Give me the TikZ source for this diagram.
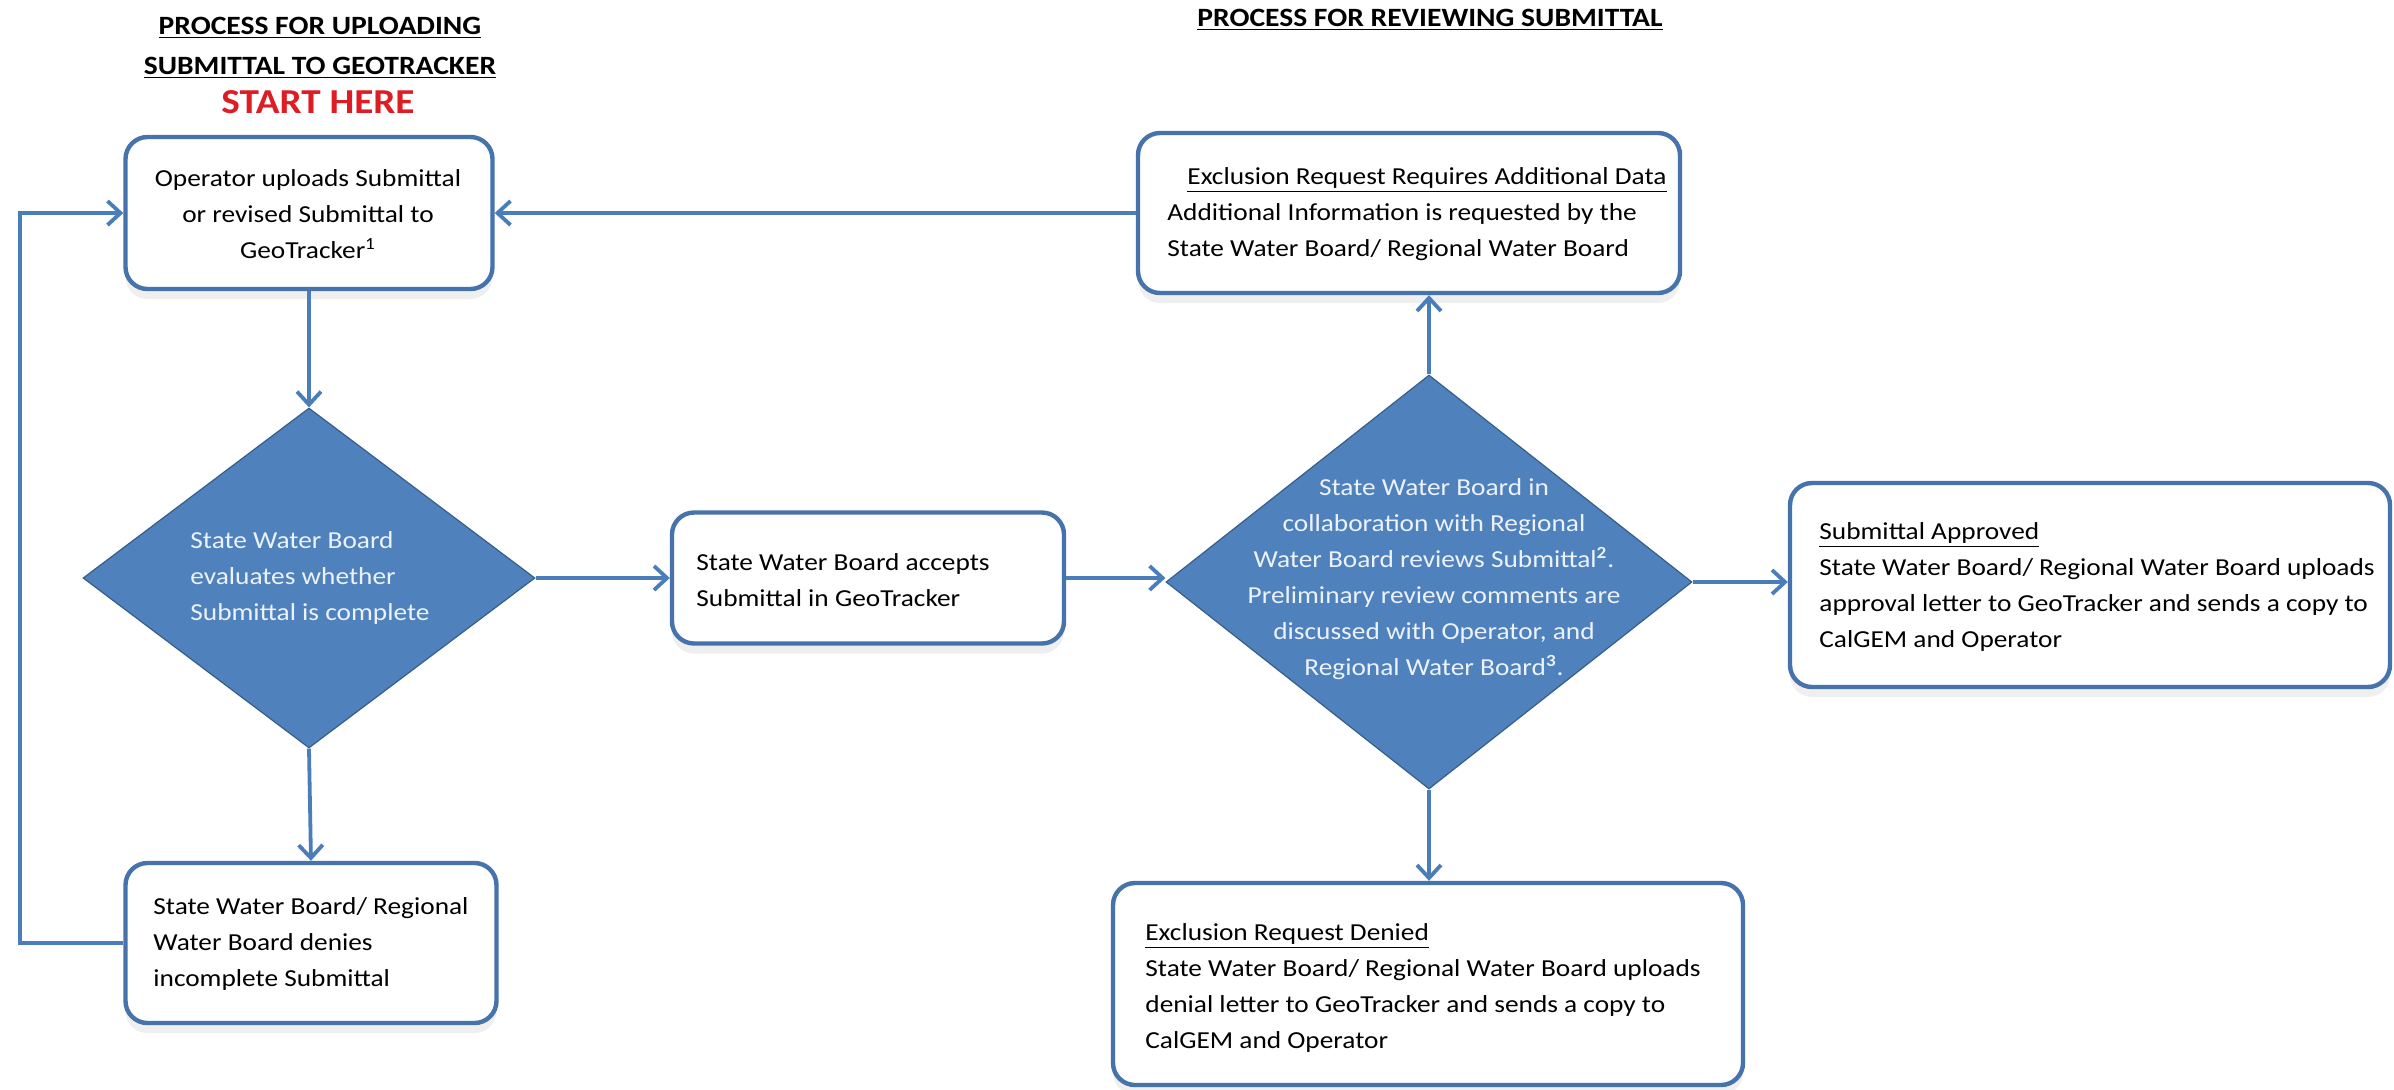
\documentclass[tikz,border=0pt]{standalone}
\usepackage{fontspec}
\setmainfont{Carlito}[FakeStretch=1.12]
\usetikzlibrary{shapes.geometric,arrows.meta,shadows}
\definecolor{lineblue}{RGB}{74,126,187}
\definecolor{dfill}{RGB}{79,129,189}
\definecolor{dborder}{RGB}{56,93,138}
\definecolor{dtext}{RGB}{236,242,250}
\definecolor{startred}{RGB}{222,28,36}
\definecolor{boxline}{RGB}{70,115,172}
\begin{document}
\begin{tikzpicture}[x=0.5pt,y=-0.5pt,
  box/.style={draw=boxline, line width=2.2pt, fill=white, rounded corners=11pt, inner sep=0pt,
    drop shadow={opacity=0.12, shadow xshift=0pt, shadow yshift=-5pt}},
  dia/.style={diamond, draw=dborder, line width=0.6pt, fill=dfill, inner sep=0pt},
  txt/.style={font=\fontsize{12.2}{18}\selectfont, inner sep=0pt, align=left, anchor=west},
  dtxt/.style={txt, text=dtext},
  arr/.style={draw=lineblue, line width=1.9pt, -{Straight Barb[length=6.5pt,width=12pt,line width=1.9pt]}},
  ttl/.style={font=\fontsize{13.2}{16}\selectfont\bfseries, inner sep=0pt}
]
\fill[white] (0,0) rectangle (2394,1089);
\useasboundingbox (0,0) rectangle (2394,1089);

% titles
\node[ttl] (tA) at (320,28) {\underline{PROCESS FOR UPLOADING}};
\node[ttl] (tB) at (320,68) {\underline{SUBMITTAL TO GEOTRACKER}};
\node[font=\fontsize{17.5}{20}\selectfont\bfseries, text=startred, inner sep=0pt] (tC) at (318,102) {START HERE};
\node[ttl] (tD) at (1430,20) {\underline{PROCESS FOR REVIEWING SUBMITTAL}};

% boxes
\node[box, minimum width=183.5pt, minimum height=76pt] (b1) at (309,213) {};
\node[box, minimum width=196pt, minimum height=65.5pt] (b2) at (868,578) {};
\node[box, minimum width=185.5pt, minimum height=80pt] (b3) at (311,943) {};
\node[box, minimum width=271pt, minimum height=80pt] (bTR) at (1409,213) {};
\node[box, minimum width=300pt, minimum height=102pt] (b5) at (2090,585) {};
\node[box, minimum width=315pt, minimum height=101pt] (b4) at (1428,984) {};

% diamonds
\node[dia, minimum width=226pt, minimum height=170pt] (d1) at (309,578) {};
\node[dia, minimum width=263pt, minimum height=207pt] (d2) at (1429,582) {};

% texts
\node[txt, anchor=center, align=center] (x1) at (308,214) {Operator uploads Submittal\\or revised Submittal to\\GeoTracker\textsuperscript{1}};
\node[dtxt] (xd1) at (190,578) {State Water Board\\evaluates whether\\Submittal is complete};
\node[txt] (x2) at (696,580) {State Water Board accepts\\Submittal in GeoTracker};
\node[txt] (x3) at (153,944) {State Water Board/ Regional\\Water Board denies\\incomplete Submittal};
\node[txt] (xTR) at (1167,214) {\hspace*{10pt}\underline{Exclusion Request Requires Additional Data}\\Additional Information is requested by the\\State Water Board/ Regional Water Board};
\node[dtxt, anchor=center, align=center] (xd2) at (1434,579) {State Water Board in\\collaboration with Regional\\Water Board reviews Submittal\textsuperscript{\textbf{2}}.\\Preliminary review comments are\\discussed with Operator, and\\Regional Water Board\textsuperscript{\textbf{3}}.};
\node[txt] (x5) at (1819,587) {\underline{Submittal Approved}\\State Water Board/ Regional Water Board uploads\\approval  letter to GeoTracker and sends a copy to\\CalGEM and Operator};
\node[txt] (x4) at (1145,988) {\underline{Exclusion Request Denied}\\State Water Board/ Regional Water Board uploads\\denial letter to GeoTracker and sends a copy to\\CalGEM and Operator};

% connectors
\coordinate (loop) at (20,213);
\draw[arr] (b1.south) -- (d1.north);
\draw[arr] (d1.east) -- (b2.west);
\draw[arr] (d1.south) -- (b3.north);
\draw[arr] (b3.west) -| (loop) -- (b1.west);
\draw[arr] (b2.east) -- (b2.east -| d2.west);
\draw[arr] (d2.north) -- (d2.north |- bTR.south);
\draw[arr] (d2.east) -- (d2.east -| b5.west);
\draw[arr] (d2.south) -- (d2.south |- b4.north);
\draw[arr] (bTR.west) -- (b1.east);
\end{tikzpicture}
\end{document}
